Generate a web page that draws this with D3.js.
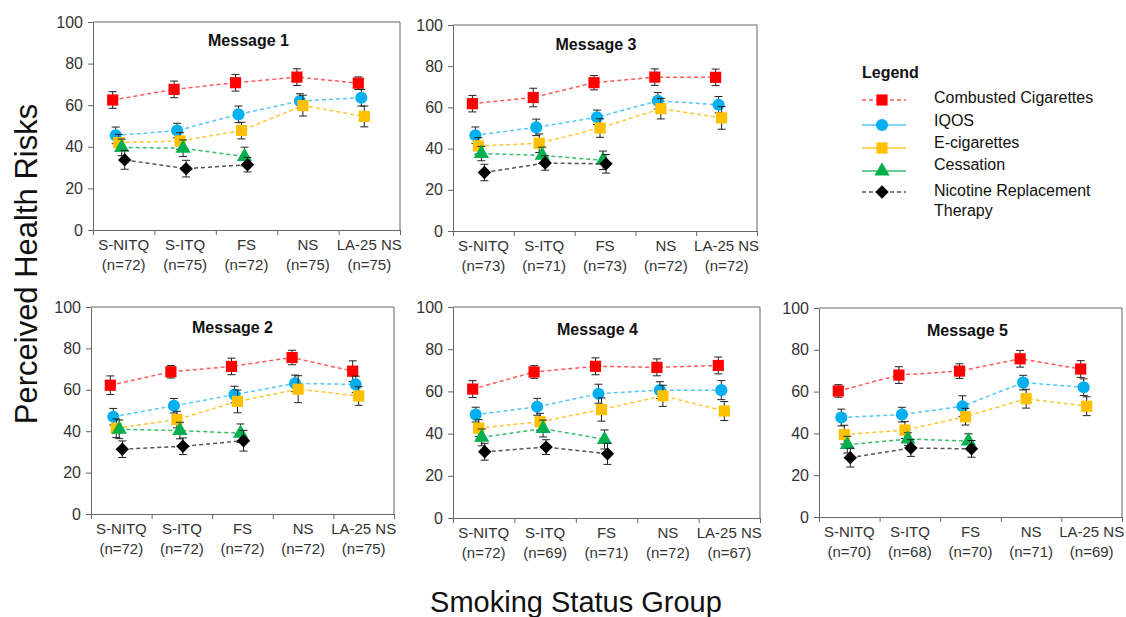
<!DOCTYPE html>
<html>
<head>
<meta charset="utf-8">
<script src="https://cdn.jsdelivr.net/npm/d3@7"></script>
<style>
  body { margin: 0; background: #fff; }
  text { font-family: "Liberation Sans", Arial, sans-serif; }
</style>
</head>
<body>
<svg id="chart" width="1126" height="617"></svg>
<script>
// categories and sample sizes
const categories = ["S-NITQ", "S-ITQ", "FS", "NS", "LA-25 NS"];
const nM1 = [72, 75, 72, 75, 75];
const nM2 = [72, 72, 72, 72, 75];
const nM3 = [73, 71, 73, 72, 72];
const nM4 = [72, 69, 71, 72, 67];
const nM5 = [70, 68, 70, 71, 69];

// series values per message (Cessation / NRT only for first 3 groups)
const combustedM1 = [62.5, 67.6, 70.8, 73.5, 70.6];
const iqosM1 = [45.5, 47.8, 55.6, 62.0, 63.6];
const ecigM1 = [42.0, 42.8, 47.8, 59.8, 54.6];
const cessationM1 = [39.7, 39.3, 35.3];
const nrtM1 = [33.7, 29.5, 31.4];

const combustedM2 = [62.2, 68.7, 71.3, 75.6, 69.0];
const iqosM2 = [47.0, 52.3, 57.7, 63.1, 62.6];
const ecigM2 = [41.4, 45.6, 54.4, 60.3, 57.0];
const cessationM2 = [40.9, 40.3, 39.0];
const nrtM2 = [31.3, 32.7, 35.4];

const combustedM3 = [61.8, 64.8, 72.0, 74.7, 74.6];
const iqosM3 = [46.5, 50.3, 55.2, 63.2, 61.3];
const ecigM3 = [41.3, 42.6, 50.0, 59.4, 54.9];
const cessationM3 = [37.6, 36.7, 34.3];
const nrtM3 = [28.4, 33.0, 32.6];

const combustedM4 = [61.1, 69.2, 71.9, 71.4, 72.3];
const iqosM4 = [49.0, 52.7, 58.9, 60.6, 60.6];
const ecigM4 = [42.6, 45.6, 51.4, 57.9, 50.7];
const cessationM4 = [38.2, 42.4, 37.2];
const nrtM4 = [31.4, 33.6, 30.4];

const combustedM5 = [60.3, 67.9, 69.8, 75.7, 70.8];
const iqosM5 = [47.6, 49.0, 53.0, 64.3, 62.1];
const ecigM5 = [39.4, 41.6, 48.0, 56.6, 53.0];
const cessationM5 = [34.6, 37.3, 36.3];
const nrtM5 = [28.4, 33.0, 32.6];

// error bar half-widths
const combustedErr = [[4, 4, 4, 4, 3], [4.5, 3, 4, 3.5, 5], [4, 4.5, 3.5, 4, 4], [4, 3, 4, 4, 4], [3, 4, 3.5, 4, 4]];
const iqosErr = [[4, 3.5, 4, 3.5, 4], [4, 3.5, 4, 4, 4], [4, 4, 3.5, 4, 4], [3.5, 4, 4.5, 4, 4.5], [4, 3.5, 5, 3.5, 4]];
const ecigErr = [[4, 4, 4, 5, 5], [4.5, 4, 5.5, 6.5, 4.5], [4, 4.5, 4.5, 5, 5.5], [4, 4, 5.5, 5, 4.5], [4.5, 4, 4, 4.5, 4.5]];
const cessationErr = [[4, 4, 4.5], [4.5, 4, 4.5], [3.5, 4, 4.5], [4, 4, 4.5], [4, 3, 3.5]];
const nrtErr = [[4.5, 4, 3.5], [4, 4, 5], [4, 3.5, 4.5], [4, 3.5, 5], [4.5, 4, 4]];

const series = [
  { name: "Combusted Cigarettes", values: [combustedM1, combustedM2, combustedM3, combustedM4, combustedM5], err: combustedErr },
  { name: "IQOS", values: [iqosM1, iqosM2, iqosM3, iqosM4, iqosM5], err: iqosErr },
  { name: "E-cigarettes", values: [ecigM1, ecigM2, ecigM3, ecigM4, ecigM5], err: ecigErr },
  { name: "Cessation", values: [cessationM1, cessationM2, cessationM3, cessationM4, cessationM5], err: cessationErr },
  { name: "Nicotine Replacement Therapy", values: [nrtM1, nrtM2, nrtM3, nrtM4, nrtM5], err: nrtErr },
];
const messages = ["Message 1", "Message 2", "Message 3", "Message 4", "Message 5"];
const nLabels = [nM1, nM2, nM3, nM4, nM5];

// square diamond (d3's own diamond is too tall)
const symbolSquareDiamond = {
  draw(ctx, size) {
    const r = Math.sqrt(size / 2);
    ctx.moveTo(0, -r);
    ctx.lineTo(r, 0);
    ctx.lineTo(0, r);
    ctx.lineTo(-r, 0);
    ctx.closePath();
  },
};

// styles (marker color, line color, marker type, offset from band center)
const styles = [
  { fill: "#ff0000", line: "#ff5a5a", sym: d3.symbolSquare, size: 125, dx: -11 },
  { fill: "#00b0f0", line: "#56c6f5", sym: d3.symbolCircle, size: 115, dx: -8 },
  { fill: "#ffc000", line: "#ffc633", sym: d3.symbolSquare, size: 125, dx: -5 },
  { fill: "#00b050", line: "#38bd6a", sym: d3.symbolTriangle, size: 100, dx: -2 },
  { fill: "#000000", line: "#555555", sym: symbolSquareDiamond, size: 90, dx: 1 },
];

// panel plot rectangles and title nudges
const panels = [
  { x0: 93, x1: 400, y0: 22, y1: 230, tdx: 2, tdy: 24 },
  { x0: 91, x1: 394, y0: 307, y1: 514, tdx: -10, tdy: 26 },
  { x0: 453, x1: 757, y0: 25, y1: 231, tdx: -9, tdy: 25 },
  { x0: 453, x1: 760, y0: 307, y1: 518, tdx: -9, tdy: 28 },
  { x0: 819, x1: 1122, y0: 308, y1: 517, tdx: -3, tdy: 28 },
];

const svg = d3.select("#chart");

panels.forEach((p, m) => {
  const g = svg.append("g");
  const x = d3.scaleBand().domain(categories).range([p.x0, p.x1]).padding(0);
  const xb = d3.scaleLinear().domain([0, categories.length]).range([p.x0, p.x1]);
  const y = d3.scaleLinear().domain([0, 100]).range([p.y1, p.y0]);

  // frame
  g.append("path")
    .attr("d", `M${p.x0},${p.y0}H${p.x1}V${p.y1}`)
    .attr("fill", "none")
    .attr("stroke", "#666")
    .attr("stroke-width", 1);

  const ya = g.append("g")
    .attr("transform", "translate(" + p.x0 + ",0)")
    .call(d3.axisLeft(y).tickValues([0, 20, 40, 60, 80, 100]).tickSize(5).tickSizeOuter(0));
  ya.select(".domain").attr("stroke", "#666");
  ya.selectAll(".tick line").attr("stroke", "#666");
  ya.selectAll(".tick text").attr("font-size", 16).attr("fill", "#333").attr("dx", -2);

  const xa = g.append("g")
    .attr("transform", "translate(0," + p.y1 + ")")
    .call(d3.axisBottom(xb).ticks(5).tickFormat("").tickSize(5).tickSizeOuter(0));
  xa.select(".domain").attr("stroke", "#666");
  xa.selectAll(".tick line").attr("stroke", "#666");

  // category labels
  const lab = g.append("g").selectAll("text")
    .data(categories)
    .join("text")
    .attr("text-anchor", "middle")
    .attr("font-size", 15)
    .attr("fill", "#333");
  lab.append("tspan").attr("x", (d) => x(d) + x.bandwidth() / 2).attr("y", p.y1 + 20).text((d) => d);
  lab.append("tspan").attr("x", (d) => x(d) + x.bandwidth() / 2).attr("y", p.y1 + 40)
    .text((d, i) => "(n=" + nLabels[m][i] + ")");

  // title
  g.append("text")
    .attr("x", (p.x0 + p.x1) / 2 + p.tdx)
    .attr("y", p.y0 + p.tdy)
    .attr("text-anchor", "middle")
    .attr("font-size", 16)
    .attr("font-weight", "bold")
    .attr("fill", "#111")
    .text(messages[m]);

  // series
  series.forEach((s, k) => {
    const st = styles[k];
    const pts = s.values[m].map((v, i) => ({
      cx: x(categories[i]) + x.bandwidth() / 2 + st.dx,
      v: v,
      e: s.err[m][i],
    }));
    g.append("path")
      .datum(pts)
      .attr("fill", "none")
      .attr("stroke", st.line)
      .attr("stroke-width", 1.5)
      .attr("stroke-dasharray", "4,3")
      .attr("d", d3.line().x((d) => d.cx).y((d) => y(d.v)));

    const eb = g.append("g").selectAll("g").data(pts).join("g");
    eb.append("line")
      .attr("x1", (d) => d.cx).attr("x2", (d) => d.cx)
      .attr("y1", (d) => y(d.v - d.e)).attr("y2", (d) => y(d.v + d.e))
      .attr("stroke", "#222").attr("stroke-width", 1);
    [1, -1].forEach((sgn) => {
      eb.append("line")
        .attr("x1", (d) => d.cx - 4).attr("x2", (d) => d.cx + 4)
        .attr("y1", (d) => y(d.v + sgn * d.e)).attr("y2", (d) => y(d.v + sgn * d.e))
        .attr("stroke", "#222").attr("stroke-width", 1);
    });

    g.append("g").selectAll("path")
      .data(pts)
      .join("path")
      .attr("transform", (d) => "translate(" + d.cx + "," + y(d.v) + ")")
      .attr("d", d3.symbol().type(st.sym).size(st.size))
      .attr("fill", st.fill);
  });
});

// axis titles
svg.append("text")
  .attr("transform", "translate(37,264) rotate(-90)")
  .attr("text-anchor", "middle")
  .attr("font-size", 31)
  .attr("fill", "#111")
  .text("Perceived Health Risks");

svg.append("text")
  .attr("x", 576)
  .attr("y", 612)
  .attr("text-anchor", "middle")
  .attr("font-size", 29)
  .attr("fill", "#111")
  .text("Smoking Status Group");

// legend
const legend = svg.append("g");
legend.append("text")
  .attr("x", 862).attr("y", 78)
  .attr("font-size", 16).attr("font-weight", "bold").attr("fill", "#111")
  .text("Legend");
const legendRows = [100, 125, 148, 171, 192];
const legendText = [103, 126, 148, 170, 196];
const legendDash = ["4,3", null, null, null, "4,3"];
series.forEach((s, k) => {
  const st = styles[k];
  const ly = legendRows[k];
  legend.append("line")
    .attr("x1", 862).attr("x2", 906).attr("y1", ly).attr("y2", ly)
    .attr("stroke", st.line).attr("stroke-width", 1.5)
    .attr("stroke-dasharray", legendDash[k]);
  legend.append("path")
    .attr("transform", "translate(882," + ly + ")")
    .attr("d", d3.symbol().type(st.sym).size(st.size))
    .attr("fill", st.fill);
  const t = legend.append("text")
    .attr("x", 934).attr("y", legendText[k])
    .attr("font-size", 16).attr("fill", "#111");
  if (k === 4) {
    t.append("tspan").attr("x", 934).text("Nicotine Replacement");
    t.append("tspan").attr("x", 934).attr("dy", 20).text("Therapy");
  } else {
    t.text(s.name);
  }
});
</script>
</body>
</html>
